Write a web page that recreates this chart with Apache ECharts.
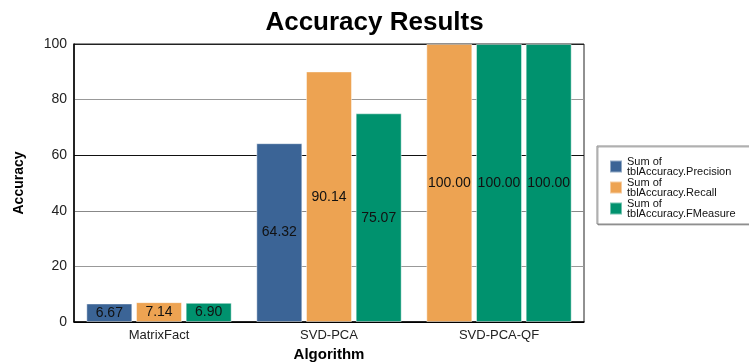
<!DOCTYPE html>
<html>
<head>
<meta charset="utf-8">
<script src="https://cdn.jsdelivr.net/npm/echarts@6/dist/echarts.min.js"></script>
<style>
  html, body { margin: 0; padding: 0; background: #fff; }
  #chart { width: 749px; height: 362px; }
</style>
</head>
<body>
<div id="chart"></div>
<script>
// Accuracy per algorithm
const categories = ['MatrixFact', 'SVD-PCA', 'SVD-PCA-QF'];
const precision = [6.67, 64.32, 100.00];
const recall = [7.14, 90.14, 100.00];
const fmeasure = [6.90, 75.07, 100.00];
const yTicks = [0, 20, 40, 60, 80, 100];

const BLUE = '#3b6496';
const ORANGE = '#eda352';
const GREEN = '#00926e';

// per-bar colours (the last group is drawn orange / green / green)
const precisionColors = [BLUE, BLUE, ORANGE];
const recallColors = [ORANGE, ORANGE, GREEN];
const fmeasureColors = [GREEN, GREEN, GREEN];

function toItems(values, colors) {
  return values.map((v, i) => ({ value: v, itemStyle: { color: colors[i] } }));
}

const FONT = 'Liberation Sans, Arial, sans-serif';

const labelStyle = {
  show: true,
  position: 'inside',
  color: '#111',
  fontFamily: FONT,
  fontSize: 14,
  formatter: p => p.value.toFixed(2)
};

function makeSeries(name, values, colors, legendColor) {
  return {
    name: name,
    type: 'bar',
    barWidth: 46,
    barGap: '8%',
    itemStyle: { color: legendColor, borderColor: 'rgba(255,255,255,0.45)', borderWidth: 1 },
    label: labelStyle,
    data: toItems(values, colors)
  };
}

const chart = echarts.init(document.getElementById('chart'), null, { renderer: 'canvas' });
chart.setOption({
  animation: false,
  backgroundColor: '#fff',
  title: {
    text: 'Accuracy Results',
    left: 'center',
    top: 5,
    padding: [5, 0, 5, 10],
    textStyle: {
      fontFamily: FONT,
      fontWeight: 'bold',
      fontSize: 26,
      color: '#000'
    }
  },
  legend: {
    orient: 'vertical',
    left: 597,
    top: 146,
    padding: [10, 17, 5, 12],
    itemWidth: 12,
    itemHeight: 12,
    itemGap: 0,
    icon: 'rect',
    backgroundColor: '#fff',
    borderColor: '#888',
    borderWidth: 1,
    shadowColor: 'rgba(0,0,0,0.3)',
    shadowOffsetX: 1,
    shadowOffsetY: 1,
    shadowBlur: 0,
    textStyle: {
      fontFamily: FONT,
      fontSize: 11,
      lineHeight: 10,
      color: '#111'
    }
  },
  grid: {
    left: 74,
    right: 165,
    top: 44,
    bottom: 40,
    outerBoundsMode: 'none',
    containLabel: false,
    show: true,
    borderColor: '#222',
    borderWidth: 1,
    backgroundColor: 'transparent'
  },
  xAxis: {
    type: 'category',
    data: categories,
    name: 'Algorithm',
    nameLocation: 'middle',
    nameGap: 24,
    nameTextStyle: {
      fontFamily: FONT,
      fontWeight: 'bold',
      fontSize: 15,
      color: '#000',
      verticalAlign: 'top'
    },
    axisLine: { lineStyle: { color: '#000', width: 1.5 } },
    axisTick: { show: false },
    axisLabel: {
      margin: 7,
      fontFamily: FONT,
      fontSize: 13,
      color: '#222'
    }
  },
  yAxis: {
    type: 'value',
    min: yTicks[0],
    max: yTicks[yTicks.length - 1],
    interval: yTicks[1] - yTicks[0],
    name: 'Accuracy',
    nameLocation: 'middle',
    nameGap: 48,
    nameRotate: 90,
    nameTextStyle: {
      fontFamily: FONT,
      fontWeight: 'bold',
      fontSize: 14,
      color: '#000'
    },
    axisLine: { show: true, lineStyle: { color: '#000', width: 1.5 } },
    axisTick: { show: false },
    axisLabel: {
      margin: 7,
      fontFamily: FONT,
      fontSize: 14,
      color: '#222'
    },
    splitLine: {
      show: true,
      lineStyle: { color: ['#000', '#999', '#888', '#111', '#999', '#222'], width: 1 }
    }
  },
  series: [
    makeSeries('Sum of\ntblAccuracy.Precision', precision, precisionColors, BLUE),
    makeSeries('Sum of\ntblAccuracy.Recall', recall, recallColors, ORANGE),
    makeSeries('Sum of\ntblAccuracy.FMeasure', fmeasure, fmeasureColors, GREEN)
  ]
});
</script>
</body>
</html>
